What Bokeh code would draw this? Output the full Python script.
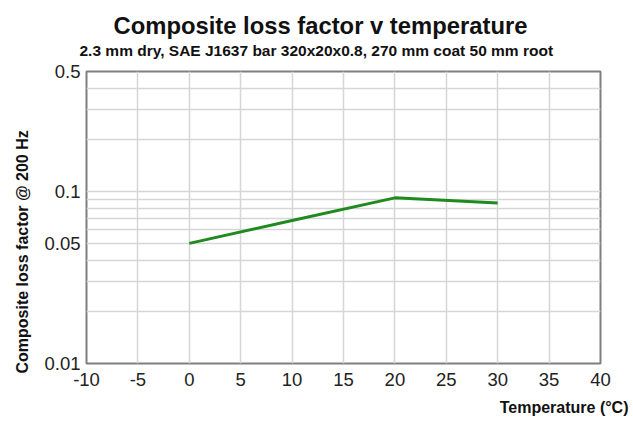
from bokeh.plotting import figure
from bokeh.models import Range1d, FixedTicker, CustomJSTickFormatter, Title
from bokeh.embed import file_html
from bokeh.resources import INLINE

# data
temperature = [0, 10, 20, 30]
loss_factor = [0.050, 0.068, 0.092, 0.086]

x_ticks = [-10, -5, 0, 5, 10, 15, 20, 25, 30, 35, 40]
y_major_ticks = [0.01, 0.05, 0.1, 0.5]
y_minor_ticks = [0.02, 0.03, 0.04, 0.06, 0.07, 0.08, 0.09, 0.2, 0.3, 0.4]

title_text = "Composite loss factor v temperature"
subtitle_text = "2.3 mm dry, SAE J1637 bar 320x20x0.8, 270 mm coat 50 mm root"
x_label = "Temperature (\u00b0C)"
y_label = "Composite loss factor @ 200 Hz"

FONT = "Liberation Sans"

p = figure(width=633, height=425, title=None, y_axis_type="log",
           x_range=Range1d(-10, 40), y_range=Range1d(0.01, 0.5),
           output_backend="svg", toolbar_location=None,
           min_border_left=86, min_border_right=33,
           min_border_top=71, min_border_bottom=62)

p.line(temperature, loss_factor, line_color="#1f8a1f", line_width=3)

# axes
for ax in (p.xaxis[0], p.yaxis[0]):
    ax.axis_line_color = None
    ax.major_tick_line_color = None
    ax.minor_tick_line_color = None
    ax.major_tick_out = 0
    ax.major_tick_in = 0
    ax.minor_tick_out = 0
    ax.minor_tick_in = 0
    ax.major_label_text_font = FONT
    ax.major_label_text_font_size = "18.5px"
    ax.major_label_text_color = "#222222"
    ax.formatter = CustomJSTickFormatter(code="return tick.toString();")

p.xaxis.ticker = FixedTicker(ticks=x_ticks)
p.xaxis.major_label_standoff = 9
p.yaxis.ticker = FixedTicker(ticks=y_major_ticks, minor_ticks=y_minor_ticks)
p.yaxis.major_label_standoff = 6

# grid
p.xgrid.ticker = FixedTicker(ticks=x_ticks)
p.xgrid.grid_line_color = "#d6d6d6"
p.xgrid.grid_line_width = 1.5
p.ygrid.grid_line_color = "#d6d6d6"
p.ygrid.grid_line_width = 1.5
p.ygrid.minor_grid_line_color = "#d6d6d6"
p.ygrid.minor_grid_line_width = 1.5

p.outline_line_color = "#7f7f7f"
p.outline_line_width = 2

# titles
p.add_layout(Title(text=subtitle_text, text_font=FONT, text_font_size="15.5px",
                   text_font_style="bold", align="left", text_color="#111111",
                   offset=-7, standoff=25), "above")
p.add_layout(Title(text=title_text, text_font=FONT, text_font_size="23.8px",
                   text_font_style="bold", align="left", text_color="#111111",
                   offset=27, standoff=-22), "above")
p.add_layout(Title(text=y_label, text_font=FONT, text_font_size="16px",
                   text_font_style="bold", align="left", text_color="#111111",
                   offset=-10, standoff=21), "left")
p.add_layout(Title(text=x_label, text_font=FONT, text_font_size="16px",
                   text_font_style="bold", align="right", text_color="#111111",
                   offset=-28, standoff=16), "below")

open("out.html", "w").write(file_html(p, INLINE))
